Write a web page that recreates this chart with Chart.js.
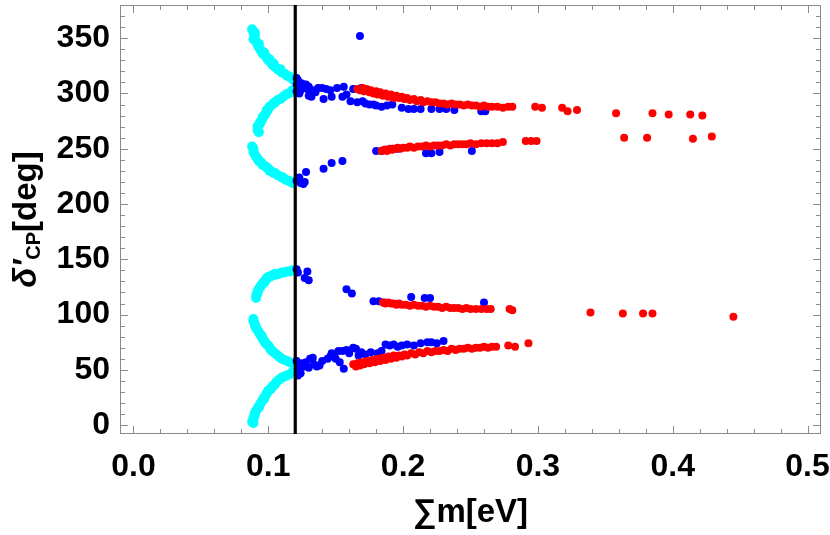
<!DOCTYPE html>
<html><head><meta charset="utf-8">
<script src="https://cdn.jsdelivr.net/npm/chart.js@4/dist/chart.umd.min.js"></script>
<style>html,body{margin:0;padding:0;background:#fff}</style>
</head><body>
<canvas id="c" width="830" height="535" style="width:830px;height:535px;display:block"></canvas>
<script>
// ---- data ----
const cyanX = [
 0.088,0.089,0.090,0.089,0.091,0.092,0.093,0.094,0.095,0.096,0.098,0.099,0.100,0.102,0.103,0.105,0.107,0.108,0.110,0.112,0.114,0.116,0.118,0.119,0.090,0.093,0.097,0.101,0.104,0.109,
 0.118,0.117,0.115,0.113,0.111,0.109,0.107,0.105,0.103,0.101,0.100,0.099,0.098,0.097,0.096,0.095,0.094,0.093,0.092,0.092,0.093,0.104,0.099,0.096,0.094,
 0.088,0.089,0.089,0.090,0.091,0.092,0.093,0.095,0.096,0.098,0.100,0.101,0.103,0.105,0.107,0.109,0.111,0.113,0.115,0.117,0.118,0.094,0.099,0.104,0.110,
 0.118,0.116,0.114,0.112,0.110,0.108,0.106,0.104,0.102,0.100,0.099,0.098,0.097,0.096,0.095,0.094,0.093,0.092,0.092,0.091,0.091,0.105,0.101,0.097,
 0.089,0.089,0.090,0.090,0.091,0.092,0.093,0.094,0.095,0.096,0.097,0.098,0.100,0.101,0.102,0.104,0.106,0.108,0.110,0.112,0.114,0.116,0.118,0.095,0.099,0.103,
 0.118,0.116,0.114,0.112,0.110,0.108,0.106,0.105,0.103,0.102,0.100,0.099,0.098,0.097,0.096,0.095,0.094,0.093,0.092,0.091,0.090,0.090,0.089,0.089,0.088,0.089,0.101,0.097,0.093,0.104
];
const cyanY = [
 358,355,352,349,347,344,342,340,338,336,334,332,330,328,326,324,322,321,319,318,316,315,313,312,355,345,337,331,327,322,
 303,301,300,299,297,295,294,292,290,288,286,284,282,280,278,276,274,272,270,267,265,291,285,279,273,
 252,250,247,245,243,241,239,237,235,234,232,230,229,228,226,225,224,222,221,220,219,238,233,228,224,
 140,139,139,138,138,137,136,136,135,134,133,131,130,128,127,125,123,121,119,117,115,137,134,129,
 96,94,92,90,88,86,84,82,80,78,76,74,72,70,68,66,64,62,60,59,58,57,56,81,73,67,
 48,46,45,44,43,41,39,37,35,33,31,29,27,25,23,21,19,17,15,13,11,9,7,5,3,2,32,24,16,36
];
const blueX = [
 0.121,0.122,0.123,0.121,0.124,0.125,0.126,0.122,0.124,0.127,0.128,0.129,0.130,0.121,0.123,0.131,0.130,0.133,0.135,0.132,0.137,0.140,0.141,0.143,0.147,0.146,0.151,0.155,0.156,0.158,0.161,0.163,0.166,0.169,0.170,0.172,0.175,0.178,0.180,0.184,0.188,0.192,0.199,0.204,0.208,0.213,0.221,0.227,0.232,0.238,0.258,0.261,0.168,
 0.180,0.184,0.187,0.192,0.196,0.217,0.221,0.227,0.251,
 0.121,0.123,0.124,0.126,0.127,0.128,0.141,0.147,0.155,
 0.121,0.122,0.129,0.127,0.130,
 0.158,0.162,0.178,0.182,0.186,0.206,0.216,0.220,0.260,
 0.121,0.122,0.123,0.124,0.122,0.125,0.127,0.128,0.130,0.131,0.133,0.134,0.136,0.138,0.140,0.144,0.146,0.147,0.149,0.150,0.152,0.153,0.156,0.155,0.158,0.160,0.163,0.165,0.167,0.169,0.172,0.176,0.181,0.184,0.187,0.190,0.193,0.196,0.199,0.203,0.208,0.213,0.218,0.221,0.225,0.230
];
const blueY = [
 314,312,310,308,307,309,306,304,303,305,308,304,306,302,300,302,298,303,301,297,305,305,295,304,297,303,305,297,306,299,293,304,292,305,293,291,290,290,289,288,289,290,287,286,286,286,286,286,286,285,284,284,352,
 248,248,249,250,250,246,246,247,248,
 221,224,219,218,220,229,232,237,239,
 141,138,139,133,131,
 123,119,112,112,111,116,115,115,111,
 58,54,51,47,45,56,53,57,52,60,61,55,53,54,58,60,62,65,64,60,67,57,51,67,68,65,70,69,63,66,64,66,65,67,73,72,73,71,72,73,72,74,75,75,74,76
];
const redX = [
 0.166,0.168,0.170,0.171,0.173,0.175,0.176,0.178,0.180,0.181,0.183,0.185,0.187,0.189,0.191,0.193,0.195,0.197,0.199,0.201,0.203,0.205,0.208,0.210,0.213,0.215,0.218,0.221,0.224,0.227,0.230,0.233,0.236,0.239,0.242,0.245,0.248,0.251,0.254,0.257,0.260,0.263,0.266,0.270,0.274,0.278,0.281,
 0.298,0.303,0.318,0.322,0.329,0.358,0.385,0.397,0.413,0.422,
 0.184,0.186,0.188,0.190,0.192,0.194,0.196,0.198,0.200,0.203,0.205,0.208,0.211,0.214,0.217,0.220,0.223,0.226,0.229,0.232,0.235,0.238,0.241,0.244,0.247,0.250,0.254,0.258,0.262,0.266,0.270,0.274,
 0.291,0.295,0.299,0.364,0.381,0.415,0.429,
 0.185,0.187,0.189,0.191,0.193,0.195,0.197,0.199,0.202,0.205,0.208,0.211,0.214,0.217,0.220,0.223,0.226,0.229,0.232,0.235,0.238,0.241,0.244,0.247,0.250,0.254,0.258,0.262,0.265,
 0.279,0.281,0.339,0.363,0.378,0.385,0.445,
 0.163,0.165,0.166,0.168,0.169,0.171,0.173,0.175,0.177,0.179,0.181,0.183,0.185,0.187,0.189,0.191,0.193,0.195,0.197,0.199,0.201,0.203,0.206,0.209,0.212,0.215,0.218,0.221,0.224,0.227,0.230,0.233,0.236,0.239,0.242,0.245,0.248,0.251,0.254,0.257,0.260,0.263,0.266,0.269,
 0.278,0.283,0.293
];
const redY = [
 304,303,305,302,304,301,303,300,302,299,301,298,300,297,299,296,298,296,297,295,296,294,295,293,294,292,293,292,292,291,291,290,291,290,290,289,290,289,289,288,289,288,288,288,287,288,288,
 288,287,287,284,285,282,282,281,281,280,
 248,249,248,250,249,250,251,250,251,251,252,251,252,252,253,252,253,253,253,254,253,254,254,254,254,255,254,255,255,255,255,256,
 257,257,257,260,260,259,261,
 111,110,111,110,110,109,110,109,109,108,109,108,108,107,108,107,107,106,107,106,106,106,105,106,105,105,105,105,105,
 105,104,102,101,101,101,98,
 55,53,56,54,57,55,58,56,59,57,60,58,61,59,62,60,63,61,63,62,64,63,65,64,66,65,67,66,67,67,68,67,69,68,69,69,70,69,70,70,71,70,71,71,
 72,71,74
];
const cutX = [0.12, 0.12];
const cutY = [-8, 380];
const xTicks = [0.0, 0.1, 0.2, 0.3, 0.4, 0.5];
const yTicks = [0, 50, 100, 150, 200, 250, 300, 350];
const xTitle = '\u2211m[eV]';
const yTitleParts = ['\u03B4\u2032', 'CP', '[deg]'];

const pts = (xs, ys) => xs.map((x, i) => ({x, y: ys[i]}));
const FONT = "'Liberation Sans', Arial, sans-serif";

const framePlugin = {
  id: 'frame',
  beforeDatasetsDraw(chart) {
    const {ctx, chartArea: a, scales: {x, y}} = chart;
    ctx.save();
    ctx.strokeStyle = '#8a8a8a';
    ctx.lineWidth = 1;
    ctx.beginPath();
    for (let i = 0; i <= 25; i++) {
      const v = i * 0.02;
      const px = Math.round(x.getPixelForValue(v)) + 0.5;
      const len = (i % 5 === 0) ? 8 : 5;
      ctx.moveTo(px, a.bottom); ctx.lineTo(px, a.bottom - len);
      ctx.moveTo(px, a.top); ctx.lineTo(px, a.top + len);
    }
    for (let v = 0; v <= 370; v += 10) {
      const py = Math.round(y.getPixelForValue(v)) + 0.5;
      const len = (v % 50 === 0) ? 8 : 5;
      ctx.moveTo(a.left, py); ctx.lineTo(a.left + len, py);
      ctx.moveTo(a.right, py); ctx.lineTo(a.right - len, py);
    }
    ctx.stroke();
    ctx.strokeRect(a.left + 0.5, a.top + 0.5, a.right - a.left - 1, a.bottom - a.top - 1);
    ctx.restore();
  },
  afterDraw(chart) {
    const {ctx, chartArea: a} = chart;
    ctx.save();
    const cy = (a.top + a.bottom) / 2;
    ctx.translate(36, cy);
    ctx.rotate(-Math.PI / 2);
    ctx.fillStyle = '#000';
    ctx.textBaseline = 'alphabetic';
    const big = 'bold 33px ' + FONT;
    const bigIt = 'italic bold 33px ' + FONT;
    const small = 'bold 20px ' + FONT;
    ctx.font = bigIt; const w0 = ctx.measureText(yTitleParts[0]).width;
    ctx.font = small; const w1 = ctx.measureText(yTitleParts[1]).width;
    ctx.font = big; const w2 = ctx.measureText(yTitleParts[2]).width;
    let sx = -(w0 + w1 + w2) / 2;
    ctx.font = bigIt; ctx.fillText(yTitleParts[0], sx, 0); sx += w0;
    ctx.font = small; ctx.fillText(yTitleParts[1], sx, 4); sx += w1;
    ctx.font = big; ctx.fillText(yTitleParts[2], sx, 0);
    ctx.restore();
  }
};

new Chart(document.getElementById('c'), {
  type: 'scatter',
  data: {
    datasets: [
      {label: 'cyan', data: pts(cyanX, cyanY), backgroundColor: '#00FFFF', pointRadius: 5, borderWidth: 0, order: 4},
      {label: 'blue', data: pts(blueX, blueY), backgroundColor: '#0000FF', pointRadius: 4, borderWidth: 0, order: 3},
      {label: 'red', data: pts(redX, redY), backgroundColor: '#FF0000', pointRadius: 4, borderWidth: 0, order: 2},
      {label: 'cut', type: 'line', data: pts(cutX, cutY), borderColor: '#000', borderWidth: 3.2, pointRadius: 0, showLine: true, order: 1}
    ]
  },
  options: {
    responsive: false,
    animation: false,
    devicePixelRatio: 1,
    events: [],
    layout: {padding: {top: 0, right: 9, bottom: 0, left: 0}},
    plugins: {legend: {display: false}, tooltip: {enabled: false}},
    scales: {
      x: {
        type: 'linear', min: -0.01, max: 0.51,
        afterBuildTicks: s => { s.ticks = xTicks.map(v => ({value: v})); },
        afterFit: s => { s.height = 101; s.paddingLeft = 0; s.paddingRight = 0; },
        grid: {display: false, drawTicks: false},
        border: {display: false},
        ticks: {color: '#000', padding: 14, autoSkip: false, maxRotation: 0,
          font: {family: FONT, size: 32, weight: 'bold'},
          callback: v => Number(v).toFixed(1)},
        title: {display: true, text: xTitle, color: '#000', padding: {top: 0, bottom: 2},
          font: {family: FONT, size: 33, weight: 'bold'}}
      },
      y: {
        type: 'linear', min: -8, max: 380,
        afterBuildTicks: s => { s.ticks = yTicks.map(v => ({value: v})); },
        afterFit: s => { s.width = 120; s.paddingTop = 0; s.paddingBottom = 0; },
        grid: {display: false, drawTicks: false},
        border: {display: false},
        ticks: {color: '#000', padding: 10, autoSkip: false,
          font: {family: FONT, size: 32, weight: 'bold'},
          callback: v => String(v)},
        title: {display: false}
      }
    }
  },
  plugins: [framePlugin]
});
</script>
</body></html>
